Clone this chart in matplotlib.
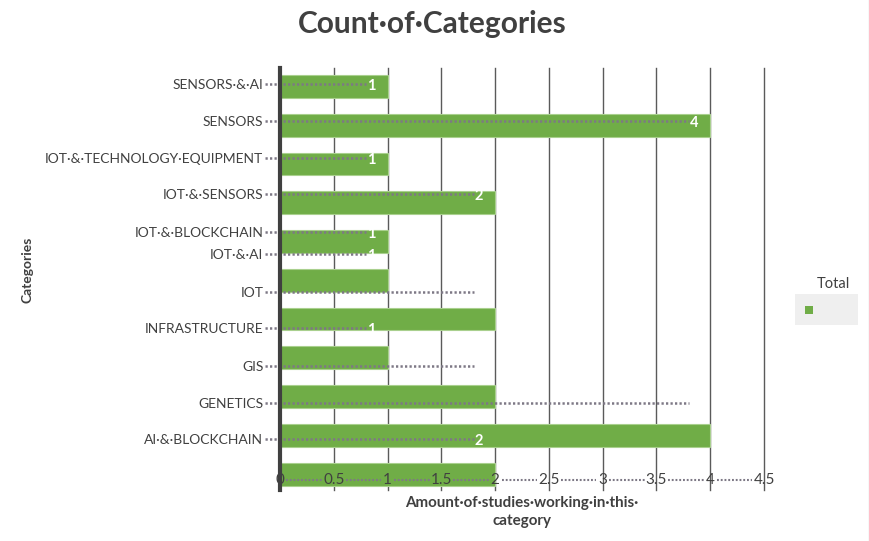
import matplotlib
matplotlib.use("Agg")
import matplotlib.pyplot as plt
from matplotlib.patches import Rectangle
from matplotlib.transforms import blended_transform_factory

plt.rcParams["font.family"] = ["Lato", "DejaVu Sans"]

# data (top to bottom as drawn)
categories = ["SENSORS·&·AI", "SENSORS", "IOT·&·TECHNOLOGY·EQUIPMENT", "IOT·&·SENSORS",
              "IOT·&·BLOCKCHAIN", "IOT·&·AI", "IOT", "INFRASTRUCTURE", "GIS",
              "GENETICS", "AI·&·BLOCKCHAIN"]
counts = [1, 4, 1, 2, 1, 1, 2, 1, 2, 4, 2]
bar_counts = [1, 4, 1, 2, 1, 1, 2, 1, 2, 4, 2, 2]  # the chart draws one extra bar at the bottom
xticks = [0, 0.5, 1, 1.5, 2, 2.5, 3, 3.5, 4, 4.5]
xtick_labels = ["0", "0.5", "1", "1.5", "2", "2.5", "3", "3.5", "4", "4.5"]

# the category labels drift away from the bars in the original render
label_pos = [-0.06, 0.89, 1.84, 2.77, 3.75, 4.32, 5.30, 6.22, 7.20, 8.16, 9.09]

GREEN = "#70AD47"
TEXT = "#404040"
DOTS = "#7d7885"

fig = plt.figure(figsize=(8.7, 5.41), dpi=100)
ax = fig.add_axes([280 / 870, 1 - 490 / 541, 484 / 870, 422 / 541])

ypos = list(range(len(bar_counts)))
ax.barh(ypos, bar_counts, height=0.59, color=GREEN, edgecolor="#a9d08e",
        linewidth=0.8, zorder=2)

ax.set_xlim(0, 4.5)
ax.set_ylim(10.41, -0.477)

# vertical gridlines
for t in xticks[1:]:
    ax.axvline(t, color="#5a5a5a", lw=1.0, zorder=1, clip_on=False)
ax.axvline(0, color="#404040", lw=3, zorder=6, clip_on=False)

for s in ax.spines.values():
    s.set_visible(False)

# category labels with their dotted leaders
ax.set_yticks(label_pos, categories)
ax.tick_params(axis="y", length=0, pad=12, labelsize=10, labelcolor=TEXT)
ax.set_xticks([])
for y, v in zip(label_pos, counts):
    ax.plot([-0.14, v - 0.2], [y, y], color=DOTS, lw=1.8, ls=(0, (0.9, 0.9)),
            clip_on=False, zorder=3)
    ax.text(v - 0.15, y + 0.06, str(v), color="white", fontsize=10.5,
            fontweight="bold", ha="center", va="center", zorder=3)

# x tick labels drawn inside the plot with dotted leaders between them
trans = blended_transform_factory(ax.transData, ax.transAxes)
ty = 0.024
for t, lab in zip(xticks, xtick_labels):
    ax.text(t, ty, lab, transform=trans, ha="center", va="center",
            fontsize=11, color=TEXT, zorder=5)
for (t0, l0), (t1, l1) in zip(zip(xticks, xtick_labels), zip(xticks[1:], xtick_labels[1:])):
    a = t0 + (0.06 if len(l0) == 1 else 0.11)
    b = t1 - (0.06 if len(l1) == 1 else 0.11)
    ax.plot([a, b], [ty, ty], transform=trans, color=DOTS, lw=1.5,
            ls=(0, (0.9, 0.9)), zorder=5)

# titles
fig.text(432 / 870, 1 - 24 / 541, "Count·of·Categories", ha="center", va="center",
         fontsize=21.5, fontweight="bold", color=TEXT)
fig.text(28 / 870, 1 - 270 / 541, "Categories", rotation=90, ha="center",
         va="center", fontsize=10, fontweight="bold", color=TEXT)
fig.text(522 / 870, 1 - 512 / 541, "Amount·of·studies·working·in·this·\ncategory",
         ha="center", va="center", fontsize=10.9, fontweight="bold", color=TEXT,
         linespacing=1.35)

# legend box
fig.text(833 / 870, 1 - 284 / 541, "Total", ha="center", va="center",
         fontsize=10.5, color=TEXT)
fig.patches.append(Rectangle((795 / 870, 1 - 325 / 541), 63 / 870, 31 / 541,
                             transform=fig.transFigure, facecolor="#efefef",
                             edgecolor="none"))
fig.patches.append(Rectangle((805 / 870, 1 - 314 / 541), 8 / 870, 8 / 541,
                             transform=fig.transFigure, facecolor=GREEN,
                             edgecolor="none"))

# right border
fig.add_artist(plt.Line2D([869 / 870, 869 / 870], [0, 1], transform=fig.transFigure,
                          color="#d9d9d9", lw=1))

fig.savefig("out.png", dpi=100)
